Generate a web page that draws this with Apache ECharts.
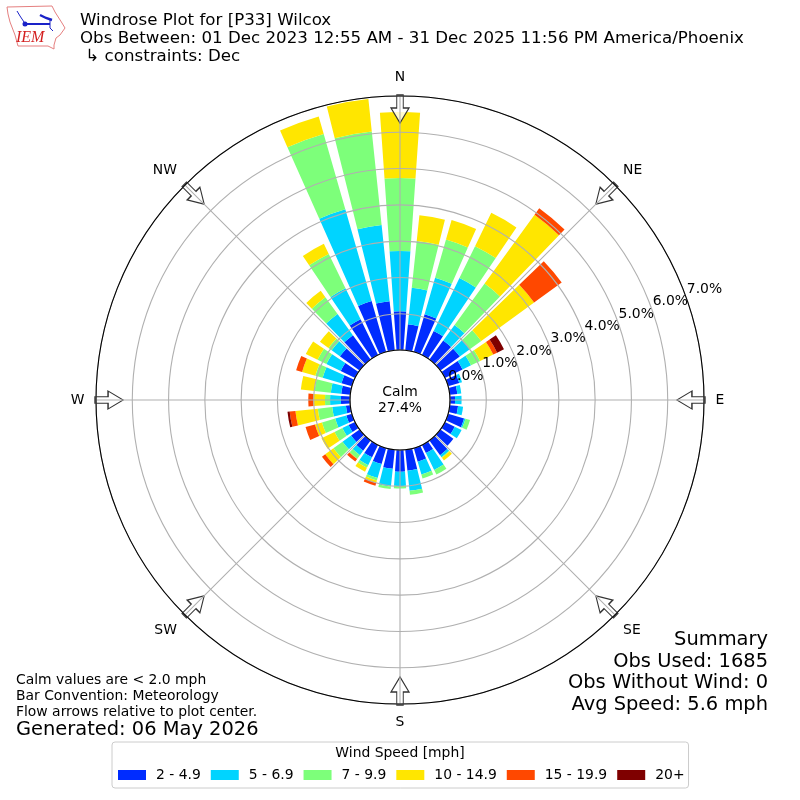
<!DOCTYPE html>
<html><head><meta charset="utf-8">
<style>html,body{margin:0;padding:0;background:#fff}#c{width:800px;height:800px}</style>
<script src="https://cdn.jsdelivr.net/npm/echarts@6/dist/echarts.min.js"></script>
</head><body><div id="c"></div>
<script>
const directions = ['0','10','20','30','40','50','60','70','80','90','100','110','120','130','140','150','160','170','180','190','200','210','220','230','240','250','260','270','280','290','300','310','320','330','340','350'];
const speedNames = ['2 - 4.9','5 - 6.9','7 - 9.9','10 - 14.9','15 - 19.9','20+'];
const speedColors = ['#002cff','#00d4ff','#7dff7a','#ffe600','#ff4800','#7f0000'];
const s2to5   = [1.07,.72,1.08,.74,.65,.66,.54,.32,.21,.14,.23,.46,.30,.44,.50,.25,.39,.58,.60,.53,.46,.38,.35,.29,.20,.16,.12,.25,.25,.30,.44,.67,.83,1.10,1.46,1.36];
const s5to7   = [1.66,1.01,1.05,1.62,.53,.34,.26,.08,.11,.18,.14,.04,.21,0,.07,.52,.37,.56,.39,.49,.40,.24,.15,.29,.19,.32,.38,.30,.29,.54,.44,.28,.72,.95,2.63,2.11];
const s7to10  = [2.01,1.30,1.09,.98,1.41,.39,.28,0,0,0,0,.13,0,0,.02,.14,.11,.11,.07,.07,.07,.08,.12,.31,.24,.38,.40,.14,.45,.21,.27,.11,.57,1.05,2.16,2.59];
const s10to15 = [1.82,.71,.56,1.02,2.34,1.80,.40,0,0,0,0,0,0,0,.09,0,0,0,0,0,.07,.12,.01,.28,.40,.20,.62,.32,.38,.38,.36,.29,.22,.31,.50,.90];
const s15to20 = [0,0,0,0,.22,.94,.12,0,0,0,0,0,0,0,0,0,0,0,0,0,.08,0,.09,.11,0,.27,.16,.14,0,.17,0,0,0,0,0,0];
const s20up   = [0,0,0,0,0,0,.21,0,0,0,0,0,0,0,0,0,0,0,0,0,0,0,0,0,0,0,.06,0,0,0,0,0,0,0,0,0];
const speedSeries = [s2to5,s5to7,s7to10,s10to15,s15to20,s20up];
const compass = ['N','NE','E','SE','S','SW','W','NW'];
const radialTicks = [0,1,2,3,4,5,6,7];
const arrowRadius = 6.64;
const radialMax = 7;
const titleLines = ['Windrose Plot for [P33] Wilcox','Obs Between: 01 Dec 2023 12:55 AM - 31 Dec 2025 11:56 PM America/Phoenix',' \u21b3 constraints: Dec'];
const summaryLines = ['Summary','Obs Used: 1685','Obs Without Wind: 0','Avg Speed: 5.6 mph'];
const noteLines = ['Calm values are < 2.0 mph','Bar Convention: Meteorology','Flow arrows relative to plot center.'];
const generated = 'Generated: 06 May 2026';
const calmText = 'Calm\n27.4%';
const legendTitle = 'Wind Speed [mph]';

const FONT = 'DejaVu Sans';
const C = [400,400];
const gridCol = '#b0b0b0';
const txt = (x,y,t,size,extra) => ({type:'text',z:20,x,y,style:Object.assign({text:t,font:size+'px "'+FONT+'"',fill:'#000',verticalAlign:'middle'},extra||{})});
const arrowPath = 'path://M5.75 0 L12.25 0 L12.25 13 L18 13 L9 28 L0 13 L5.75 13 Z';

const chart = echarts.init(document.getElementById('c'),null,{renderer:'canvas'});
const bars = speedSeries.map((d,i)=>({
  name:speedNames[i],type:'bar',coordinateSystem:'polar',polarIndex:0,stack:'w',
  data:d,barWidth:'80%',itemStyle:{color:speedColors[i]},z:2,silent:true
}));
const arrows = {type:'scatter',coordinateSystem:'polar',polarIndex:2,z:3,silent:true,
  symbol:arrowPath,symbolSize:[18,28],symbolKeepAspect:false,
  itemStyle:{color:'rgba(255,255,255,0.8)',borderColor:'#333',borderWidth:1.2,opacity:1},
  data:compass.map((n,i)=>({value:[arrowRadius,n],symbolRotate:-45*i}))
};
const radialLabels = {type:'scatter',coordinateSystem:'polar',polarIndex:1,z:7,silent:true,
  symbolSize:1,itemStyle:{color:'rgba(0,0,0,0)',opacity:1},
  label:{show:true,position:'inside',fontSize:13.9,color:'#000',fontFamily:FONT,formatter:p=>p.value[0].toFixed(1)+'%'},
  data:radialTicks.map(v=>[v,0])
};
const graphic = [
  ...titleLines.map((t,i)=>txt(80,20.5+i*18,t,16.67)),
  ...summaryLines.map((t,i)=>txt(768,640+i*21.7,t,19.45,{align:'right'})),
  ...noteLines.map((t,i)=>txt(16,680+i*16,t,13.9)),
  txt(16,730,generated,19.45),
  txt(400,400,calmText,13.9,{align:'center',lineHeight:16}),
  txt(400,753,legendTitle,13.9,{align:'center'}),
  // IEM logo
  {type:'polygon',z:20,shape:{points:[[7,7],[52,6],[55,12],[62,23],[65,28],[60,35],[56,38],[54,45],[54,49],[48,46],[18,46],[15,35],[10,22],[8,14]]},style:{fill:'none',stroke:'#e57f7f',lineWidth:1}},
  {type:'polyline',z:20,shape:{points:[[25,24],[50,24]]},style:{stroke:'#1a22c8',lineWidth:2,fill:'none'}},
  {type:'polyline',z:20,shape:{points:[[17,11],[20,16],[24,22]]},style:{stroke:'#1a22c8',lineWidth:1,fill:'none'}},
  {type:'polyline',z:20,shape:{points:[[40,15],[46,18],[52,20]]},style:{stroke:'#1a22c8',lineWidth:2.4,fill:'none'}},
  {type:'polyline',z:20,shape:{points:[[50,19],[50,28],[53,31]]},style:{stroke:'#1a22c8',lineWidth:1,fill:'none'}},
  {type:'circle',z:20,shape:{cx:25,cy:24,r:2.5},style:{fill:'#1a22c8'}},
  {type:'text',z:20,x:16,y:38,style:{text:'IEM',font:'italic 16px "Liberation Serif"',fill:'#d42020',verticalAlign:'middle'}}
];
chart.setOption({
  animation:false,backgroundColor:'#fff',textStyle:{fontFamily:FONT},
  polar:[{center:C,radius:[50,304]},{center:C,radius:[70,324]},{center:C,radius:[50,304]}],
  angleAxis:[
    {polarIndex:0,type:'category',data:directions,startAngle:95,clockwise:true,z:6,
      axisLine:{show:true,lineStyle:{color:'#000',width:1.1}},axisTick:{show:false},axisLabel:{show:false},splitLine:{show:false}},
    {polarIndex:1,type:'value',min:0,max:360,startAngle:20,show:false},
    {polarIndex:2,type:'category',data:compass,boundaryGap:false,startAngle:90,clockwise:true,z:5,
      axisLine:{show:false},axisTick:{show:false},
      axisLabel:{show:true,interval:0,margin:11.5,align:'center',verticalAlign:'middle',fontSize:13.9,color:'#000',fontFamily:FONT},
      splitLine:{show:true,interval:0,lineStyle:{color:gridCol,width:1.1}}}
  ],
  radiusAxis:[
    {polarIndex:0,type:'value',min:0,max:radialMax,interval:1,z:5,
      axisLine:{show:false},axisTick:{show:false},axisLabel:{show:false},
      splitLine:{show:true,lineStyle:{color:gridCol,width:1.1}}},
    {polarIndex:1,type:'value',min:0,max:radialMax,show:false},
    {polarIndex:2,type:'value',min:0,max:radialMax,show:false}
  ],
  legend:{left:112,top:742,orient:'horizontal',padding:[26,4,6,6],itemWidth:28,itemHeight:10,itemGap:10,icon:'rect',
    backgroundColor:'#fff',borderColor:'#ccc',borderWidth:1,borderRadius:3,selectedMode:false,
    data:speedNames,textStyle:{fontSize:13.9,color:'#000',fontFamily:FONT,padding:[0,0,0,5]}},
  series:[...bars,arrows,radialLabels],
  graphic:graphic
});
</script></body></html>
